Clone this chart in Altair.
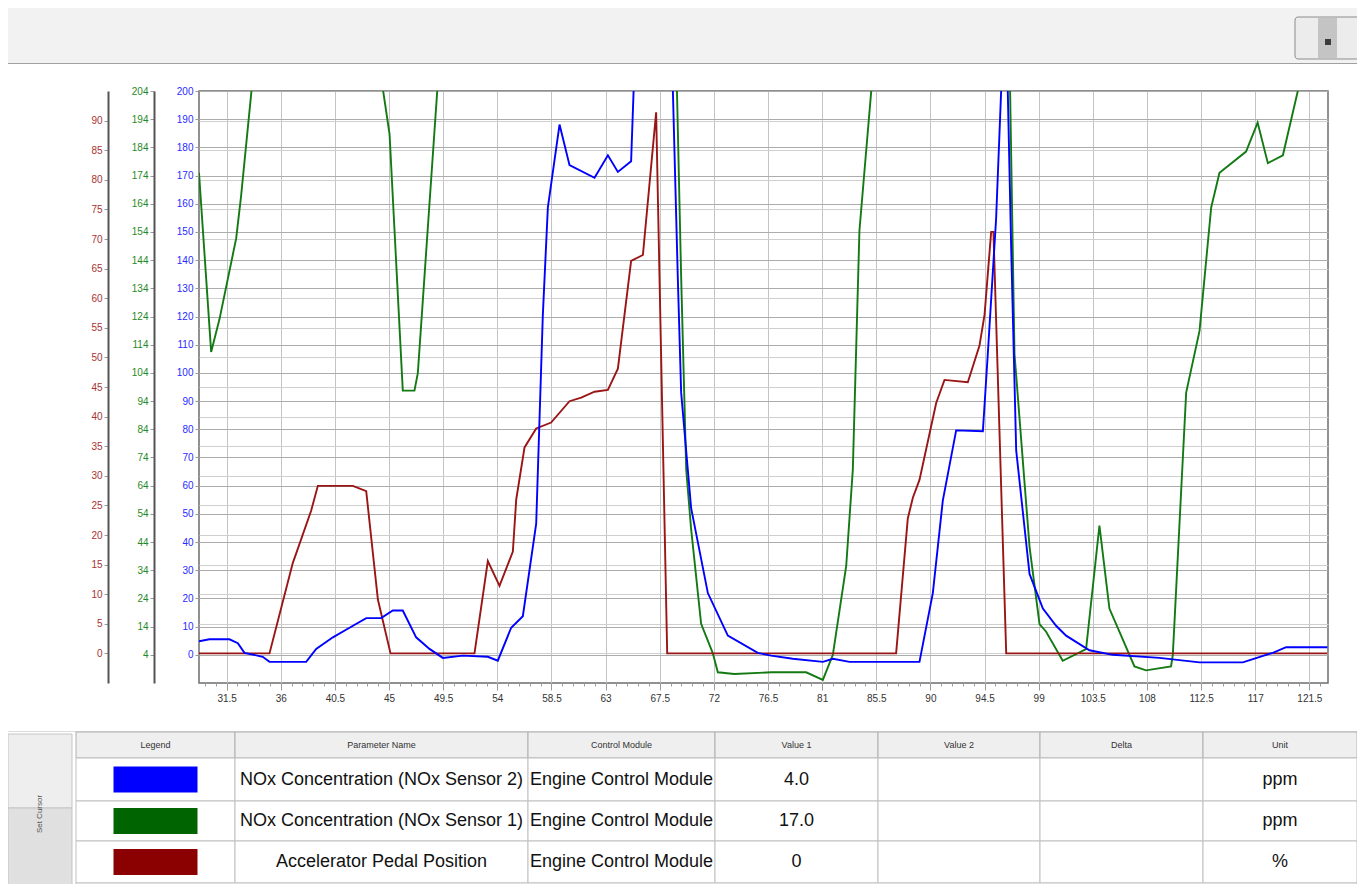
import altair as alt
import pandas as pd

# ---------------- data ----------------
# NOx Concentration (NOx Sensor 2)  -- blue, ppm
nox2_x = [29.2, 30.07, 31.73, 32.43, 32.98, 34.5, 35.06, 38.11, 38.94, 40.33,
          41.71, 43.1, 44.34, 45.31, 46.14, 47.25, 48.36, 49.47, 51.13, 53.21,
          54.04, 55.15, 56.12, 57.23, 57.78, 58.2, 59.17, 60.0, 62.08, 63.19,
          64.02, 65.12, 65.45, 68.5, 69.0, 69.28, 70.11, 71.5, 73.16, 75.65,
          76.76, 78.56, 81.06, 81.9, 83.27, 89.09, 90.2, 91.03, 92.14, 94.36,
          94.77, 95.46, 95.88, 96.15, 96.43, 96.71, 97.13, 98.24, 99.35, 100.45,
          101.28, 103.22, 105.16, 109.04, 112.37, 115.97, 118.46, 119.57, 123.0]
nox2_y = [4.8, 5.5, 5.5, 4.1, 0.7, -0.7, -2.5, -2.5, 2.1, 6.2,
          9.6, 13.0, 13.0, 15.7, 15.7, 6.2, 2.1, -1.1, -0.3, -0.7,
          -2.1, 9.6, 13.7, 46.5, 120.4, 158.7, 188.1, 173.7, 169.2, 177.2,
          171.3, 175.1, 215, 215, 134, 93, 52, 21.9, 6.8, 0.7,
          -0.3, -1.4, -2.5, -1.4, -2.5, -2.5, 21.9, 54.7, 79.6, 79.3,
          106.7, 154.6, 200, 208, 200, 145, 72.5, 28.7, 16.4, 10.3,
          6.8, 1.6, 0.0, -1.1, -2.7, -2.7, 0.7, 2.7, 2.7]

# NOx Concentration (NOx Sensor 1)  -- green, ppm
nox1_x = [29.2, 30.21, 30.9, 32.29, 32.7, 33.7, 39.0, 44.3, 45.04, 46.14,
          47.11, 47.39, 49.1, 59.0, 68.9, 69.28, 69.7, 70.1, 70.94, 71.9,
          72.33, 73.7, 76.76, 79.67, 81.06, 81.89, 83.0, 83.55, 84.1, 85.2,
          91.0, 96.6, 96.99, 98.24, 99.07, 99.62, 101.0, 102.94, 104.05, 104.88,
          106.96, 107.93, 110.0, 110.15, 111.26, 112.37, 113.34, 114.03, 116.24, 117.2,
          118.05, 119.3, 120.54, 123.0]
nox1_y = [175, 111.4, 123, 151.7, 166.8, 210, 300, 210, 188.7, 97.7,
          97.7, 103.9, 210, 300, 210, 138, 69.7, 49, 15, 4.7,
          -2.2, -2.8, -2.2, -2.2, -4.9, 4, 35.5, 69.7, 154.5, 210,
          300, 210, 110.7, 42.3, 14.9, 12.2, 1.9, 6, 49.8, 20.4,
          -0.1, -1.5, -0.1, 4, 97, 118.9, 162.7, 175, 182.5, 192.8,
          178.4, 181.2, 204, 230]

# Accelerator Pedal Position  -- dark red, %
pedal_x = [29.2, 35.06, 37.0, 37.28, 38.52, 39.08, 41.99, 43.1, 44.07, 45.12,
           52.1, 53.21, 54.18, 55.29, 55.57, 56.26, 57.23, 58.47, 60.0, 60.97,
           62.08, 63.19, 64.02, 65.12, 66.1, 67.2, 68.12, 87.15, 88.12, 88.54,
           89.09, 90.48, 91.17, 93.11, 94.08, 94.5, 95.05, 95.24, 96.3, 123.0]
pedal_y = [0, 0, 15.3, 16.9, 24.1, 28.3, 28.3, 27.4, 9.1, 0,
           0, 15.6, 11.4, 17.2, 26, 34.8, 38, 39, 42.6, 43.2,
           44.2, 44.5, 48.1, 66.3, 67.3, 91.4, 0, 0, 22.8, 26.3,
           29.3, 42.3, 46.2, 45.8, 52, 57.2, 71.2, 71.2, 0, 0]

x_ticks = [31.5, 36, 40.5, 45, 49.5, 54, 58.5, 63, 67.5, 72, 76.5, 81, 85.5,
           90, 94.5, 99, 103.5, 108, 112.5, 117, 121.5]
blue_ticks = list(range(0, 201, 10))
green_ticks = list(range(4, 205, 10))
red_ticks = list(range(0, 91, 5))

table_headers = ["Legend", "Parameter Name", "Control Module", "Value 1", "Value 2", "Delta", "Unit"]
param_names = ["NOx Concentration (NOx Sensor 2)", "NOx Concentration (NOx Sensor 1)",
               "Accelerator Pedal Position"]
modules = ["Engine Control Module", "Engine Control Module", "Engine Control Module"]
value1 = ["4.0", "17.0", "0"]
value2 = ["", "", ""]
delta = ["", "", ""]
units = ["ppm", "ppm", "%"]
swatch_colors = ["#0000ff", "#006400", "#8b0000"]

# ---------------- styles ----------------
BLUE, GREEN, RED = "#0000ff", "#137a13", "#9a1515"
FONT = "Liberation Sans"
TOTAL_W = 1349
LBL = 10

# ---------------- toolbar ----------------
tb_scale_x = alt.Scale(domain=[0, TOTAL_W], nice=False, zero=False)
tb_scale_y = alt.Scale(domain=[0, 77], reverse=True, nice=False, zero=False)
band = pd.DataFrame({"x0": [0], "x1": [TOTAL_W], "y0": [0], "y1": [55]})
btn = pd.DataFrame({"x0": [1287], "x1": [1352], "y0": [9], "y1": [51]})
btn_col = pd.DataFrame({"x0": [1310], "x1": [1329], "y0": [10], "y1": [50]})
btn_handle = pd.DataFrame({"x0": [1317], "x1": [1323], "y0": [31], "y1": [37]})


def tb_rect(df, **kw):
    return alt.Chart(df).mark_rect(clip=True, **kw).encode(
        x=alt.X("x0:Q", scale=tb_scale_x, axis=None), x2="x1:Q",
        y=alt.Y("y0:Q", scale=tb_scale_y, axis=None), y2="y1:Q")


toolbar = alt.layer(
    tb_rect(band, color="#f2f2f2"),
    tb_rect(pd.DataFrame({"x0": [0], "x1": [TOTAL_W], "y0": [55], "y1": [56]}), color="#a0a0a0"),
    tb_rect(btn, color="#ececec", stroke="#8c8c8c", strokeWidth=1, cornerRadius=3),
    tb_rect(btn_col, color="#c4c4c4"),
    tb_rect(btn_handle, color="#3c3c3c"),
).properties(width=TOTAL_W, height=77)

# ---------------- main plot ----------------
W, H = 1129, 592
xscale = alt.Scale(domain=[29.2, 123.05], nice=False, zero=False)
minor_ticks = [round(31.5 + 0.9 * k, 2) for k in range(-2, 102)]

df_b = pd.DataFrame({"t": nox2_x, "v": nox2_y})
df_g = pd.DataFrame({"t": nox1_x, "v": nox1_y})
df_r = pd.DataFrame({"t": pedal_x, "v": pedal_y})

blue = alt.Chart(df_b).mark_line(color=BLUE, strokeWidth=1.9, clip=True).encode(
    x=alt.X("t:Q", scale=xscale, axis=alt.Axis(
        orient="bottom", values=x_ticks, format=".1~f", title=None, grid=True,
        gridColor="#c4c4c4", tickSize=7, tickColor="#9a9a9a", labelPadding=3,
        domain=False, labelColor="#333", labelFontSize=LBL, labelFont=FONT)),
    y=alt.Y("v:Q", scale=alt.Scale(domain=[-10, 200], nice=False, zero=False),
            axis=alt.Axis(orient="left", values=blue_ticks, title=None, grid=True,
                          gridColor="#acacac", tickSize=4, tickColor="#999",
                          labelColor="#2a2aff", labelPadding=2, domain=False,
                          labelFontSize=LBL, labelFont=FONT)),
)

green = alt.Chart(df_g).mark_line(color=GREEN, strokeWidth=1.9, clip=True).encode(
    x=alt.X("t:Q", scale=xscale, axis=None),
    y=alt.Y("v:Q", scale=alt.Scale(domain=[-6, 204], nice=False, zero=False),
            axis=alt.Axis(orient="left", values=green_ticks, title=None, grid=False,
                          offset=45, tickSize=4, tickColor="#999",
                          labelColor="#1f8a1f", labelPadding=2, domain=True,
                          domainColor="#555", domainWidth=2,
                          labelFontSize=LBL, labelFont=FONT)),
)

red = alt.Chart(df_r).mark_line(color=RED, strokeWidth=1.9, clip=True).encode(
    x=alt.X("t:Q", scale=xscale, axis=alt.Axis(
        orient="bottom", values=minor_ticks, labels=False, title=None, grid=False,
        domain=False, tickSize=3, tickColor="#9a9a9a")),
    y=alt.Y("v:Q", scale=alt.Scale(domain=[-5, 95], nice=False, zero=False),
            axis=alt.Axis(orient="left", values=red_ticks, title=None, grid=True,
                          gridColor="#cfcfcf", offset=91, tickSize=4, tickColor="#999",
                          labelColor="#a83232", labelPadding=2, domain=True,
                          domainColor="#555", domainWidth=2,
                          labelFontSize=LBL, labelFont=FONT)),
)

main = alt.layer(green, red, blue).resolve_scale(y="independent").resolve_axis(
    x="independent", y="independent"
).properties(width=W, height=H, view=alt.ViewBackground(stroke="#6e6e6e", strokeWidth=1.5))

spacer = alt.Chart(pd.DataFrame({"a": [0]})).mark_point(opacity=0).encode(
    x=alt.X("a:Q", axis=None), y=alt.Y("a:Q", axis=None)
).properties(width=82, height=640)

middle = alt.hconcat(spacer, main, spacing=0)

# ---------------- table ----------------
TH = 153
col_edges = [68, 227, 520, 707, 870, 1032, 1195, TOTAL_W]
row_edges = [1, 27, 70, 110, 152, 170]
tx = alt.Scale(domain=[0, TOTAL_W], nice=False, zero=False)
ty = alt.Scale(domain=[0, TH], reverse=True, nice=False, zero=False)

header_cells = pd.DataFrame({
    "x0": col_edges[:-1], "x1": col_edges[1:],
    "y0": [row_edges[0]] * 7, "y1": [row_edges[1]] * 7,
    "xc": [(a + b) / 2 for a, b in zip(col_edges[:-1], col_edges[1:])],
    "yc": [(row_edges[0] + row_edges[1]) / 2] * 7,
    "label": table_headers,
})

body_rows = []
for r in range(3):
    texts = ["", param_names[r], modules[r], value1[r], value2[r], delta[r], units[r]]
    for c in range(7):
        body_rows.append({
            "x0": col_edges[c], "x1": col_edges[c + 1],
            "y0": row_edges[r + 1], "y1": row_edges[r + 2],
            "xc": (col_edges[c] + col_edges[c + 1]) / 2,
            "yc": (row_edges[r + 1] + row_edges[r + 2]) / 2,
            "label": texts[c],
        })
body = pd.DataFrame(body_rows)
blank_row = pd.DataFrame({"x0": [col_edges[0]], "x1": [TOTAL_W], "y0": [row_edges[4]], "y1": [row_edges[5]]})

swatches = pd.DataFrame({
    "xc": [(col_edges[0] + col_edges[1]) / 2] * 3,
    "yc": [(row_edges[i + 1] + row_edges[i + 2]) / 2 for i in range(3)],
    "color": swatch_colors,
})
swatches["x0"] = swatches["xc"] - 42
swatches["x1"] = swatches["xc"] + 42
swatches["y0"] = swatches["yc"] - 13
swatches["y1"] = swatches["yc"] + 13

tab = pd.DataFrame({"x0": [0, 0], "x1": [64, 64], "y0": [3, 77], "y1": [77, 170],
                    "fill": ["#eeeeee", "#e0e0e0"]})
tab_label = pd.DataFrame({"xc": [32], "yc": [83], "label": ["Set Cursor"]})
panel = pd.DataFrame({"x0": [-1], "x1": [TOTAL_W + 2], "y0": [0], "y1": [175]})


def t_rect(df, **kw):
    return alt.Chart(df).mark_rect(clip=True, **kw).encode(
        x=alt.X("x0:Q", scale=tx, axis=None), x2="x1:Q",
        y=alt.Y("y0:Q", scale=ty, axis=None), y2="y1:Q")


def t_text(df, **kw):
    return alt.Chart(df).mark_text(align="center", baseline="middle", font=FONT, clip=True, **kw).encode(
        x=alt.X("xc:Q", scale=tx, axis=None),
        y=alt.Y("yc:Q", scale=ty, axis=None),
        text="label:N")


table = alt.layer(
    t_rect(panel, fill="#ffffff", stroke="#b8b8b8", strokeWidth=1),
    t_rect(tab, stroke="#c4c4c4", strokeWidth=1).encode(color=alt.Color("fill:N", scale=None)),
    t_text(tab_label, fontSize=8, angle=270, color="#555"),
    t_rect(header_cells, fill="#efefef", stroke="#b0b0b0", strokeWidth=1),
    t_rect(body, fill="#ffffff", stroke="#c0c0c0", strokeWidth=1),
    t_rect(blank_row, fill="#ffffff", stroke="#c0c0c0", strokeWidth=1),
    t_rect(swatches, strokeWidth=0).encode(color=alt.Color("color:N", scale=None)),
    t_text(header_cells, fontSize=9, color="#333"),
    t_text(body, fontSize=18, color="#111"),
).properties(width=TOTAL_W, height=TH)

chart = alt.vconcat(toolbar, middle, table, spacing=0).properties(
    padding=0, background="#ffffff"
).configure_view(stroke=None)

chart.save("out.html", embed_options={"renderer": "svg", "actions": False})
